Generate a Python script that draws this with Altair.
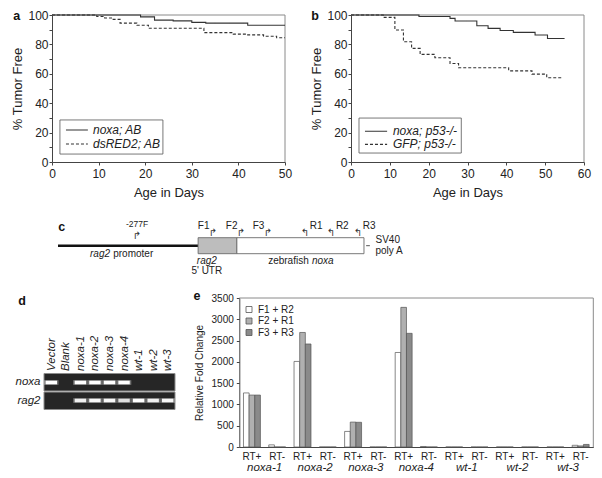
import altair as alt
import pandas as pd

# ---------------- data ----------------
# panel a : % tumor free vs age (step curves)
a_series = ["noxa; AB", "dsRED2; AB"]
a_noxa_days = [0, 19, 22, 26, 30, 33, 42, 50]
a_noxa_pct = [100, 98.7, 96.5, 96, 95, 94.5, 93, 93]
a_ds_days = [0, 9.6, 11.3, 13.0, 14.6, 18.2, 20.7, 32.6, 38.9, 41.8, 45.4, 48.2, 50]
a_ds_pct = [100, 99, 98, 97, 94.5, 93, 91, 88, 87, 86.5, 85.5, 84.5, 84.5]

# panel b
b_series = ["noxa; p53-/-", "GFP; p53-/-"]
b_noxa_days = [0, 17.5, 25.5, 26.8, 32.4, 35.3, 38.4, 41.8, 47.4, 50.6, 55]
b_noxa_pct = [100, 99, 97.7, 95.9, 92.7, 90.9, 89.5, 88.2, 86.4, 84, 84]
b_gfp_days = [0, 8.3, 11.3, 13.5, 15.6, 17.8, 21.6, 25.5, 27.7, 40.6, 46.6, 50.4, 54.3]
b_gfp_pct = [100, 98.4, 89.8, 81.8, 77.3, 73.2, 70.9, 67, 64.1, 62, 59.8, 57.3, 57.3]

# panel c : construct (arbitrary construct units 0..1000)
part_names = ["rag2 promoter", "rag2 5' UTR", "zebrafish noxa", "SV40 poly A"]
part_start = [0, 452, 577, 994]
part_end = [452, 577, 987, 1006]
primer_names = ["-277F", "F1", "F2", "F3", "R1", "R2", "R3"]
primer_pos = [255, 500, 590, 677, 797, 881, 968]
primer_dir = ["F", "F", "F", "F", "R", "R", "R"]

# panel d : RT-PCR gel
lanes = ["Vector", "Blank", "noxa-1", "noxa-2", "noxa-3", "noxa-4", "wt-1", "wt-2", "wt-3"]
gel_rows = ["noxa", "rag2"]
noxa_band = [1, 0, 1, 1, 1, 1, 0, 0, 0]
rag2_band = [0, 0, 0.9, 0.95, 0.95, 0.8, 1, 0.9, 0.95]

# panel e : qPCR relative fold change
samples = ["noxa-1", "noxa-2", "noxa-3", "noxa-4", "wt-1", "wt-2", "wt-3"]
rt_labels = ["RT+", "RT-"]
primers = ["F1 + R2", "F2 + R1", "F3 + R3"]
f1r2_rtp = [1270, 2010, 366, 2220, 0, 0, 0]
f2r1_rtp = [1220, 2690, 585, 3280, 0, 0, 0]
f3r3_rtp = [1220, 2420, 580, 2670, 0, 0, 0]
f1r2_rtm = [50, 0, 0, 12, 0, 0, 40]
f2r1_rtm = [0, 0, 0, 0, 0, 0, 25]
f3r3_rtm = [0, 0, 0, 0, 0, 0, 60]

# ---------------- layout / style ----------------
W, H = 586, 470
FONT = "Liberation Sans"
TXT = "#222"
AX_A = [44, 277]
AX_B = [343, 576]
AY = [154, 7]


def lin(domain, rng):
    return alt.Scale(domain=domain, range=rng, nice=False, zero=False)


layers = []


def survival_panel(series, d1, p1, d2, p2, xdom, xr, xvals, legbox, legline, legtx, legys):
    df = pd.DataFrame(
        [{"series": series[0], "day": d, "pct": p} for d, p in zip(d1, p1)]
        + [{"series": series[1], "day": d, "pct": p} for d, p in zip(d2, p2)]
    )
    xs = lin(xdom, xr)
    ys = lin([0, 100], AY)
    dash = alt.Scale(domain=series, range=[[1, 0], [3, 2]])
    frame_df = pd.DataFrame({"x": [xdom[0], xdom[1]], "x2": [xdom[1], xdom[1]],
                             "y": [100, 0], "y2": [100, 100]})
    frame = alt.Chart(frame_df).mark_rule(color="#8a8a8a", strokeWidth=1).encode(
        x=alt.X("x:Q", scale=xs, axis=None), x2="x2:Q",
        y=alt.Y("y:Q", scale=ys, axis=None), y2="y2:Q")
    lines = alt.Chart(df).mark_line(interpolate="step-after", color="#333", strokeWidth=1.1).encode(
        x=alt.X("day:Q", scale=xs, axis=alt.Axis(
            orient="bottom", offset=AY[0] - H, values=xvals, title="Age in Days",
            labelFontSize=12, titleFontSize=13, tickSize=3, labelPadding=3,
            titlePadding=7, labelFlush=False)),
        y=alt.Y("pct:Q", scale=ys, axis=alt.Axis(
            orient="left", offset=-xr[0], values=list(range(0, 101, 10)),
            labelExpr="datum.value % 20 == 0 ? datum.label : ''",
            title="% Tumor Free", labelFontSize=12, titleFontSize=13,
            tickSize=3, labelPadding=1, titlePadding=3)),
        strokeDash=alt.StrokeDash("series:N", scale=dash, legend=None),
    )
    box = alt.Chart(pd.DataFrame({"x": [legbox[0]], "x2": [legbox[1]],
                                  "y": [legbox[2]], "y2": [legbox[3]]})).mark_rect(
        fill="white", stroke="#555", strokeWidth=0.8).encode(
        x=alt.X("x:Q", scale=xs, axis=None), x2="x2:Q",
        y=alt.Y("y:Q", scale=ys, axis=None), y2="y2:Q")
    leg_df = pd.DataFrame({"series": series, "y": legys,
                           "x": [legline[0]] * 2, "x2": [legline[1]] * 2, "tx": [legtx] * 2})
    leg_lines = alt.Chart(leg_df).mark_rule(color="#333", strokeWidth=1.1).encode(
        x=alt.X("x:Q", scale=xs, axis=None), x2="x2:Q",
        y=alt.Y("y:Q", scale=ys, axis=None),
        strokeDash=alt.StrokeDash("series:N", scale=dash, legend=None))
    leg_text = alt.Chart(leg_df).mark_text(align="left", baseline="middle", fontSize=12,
                                           fontStyle="italic", color=TXT).encode(
        x=alt.X("tx:Q", scale=xs, axis=None),
        y=alt.Y("y:Q", scale=ys, axis=None), text="series:N")
    return [frame, lines, box, leg_lines, leg_text]


layers += survival_panel(a_series, a_noxa_days, a_noxa_pct, a_ds_days, a_ds_pct,
                         [0, 50], AX_A, [0, 10, 20, 30, 40, 50],
                         [1.7, 23.8, 5.4, 28.6], [3.0, 7.7], 8.8, [21.8, 12.2])
layers += survival_panel(b_series, b_noxa_days, b_noxa_pct, b_gfp_days, b_gfp_pct,
                         [0, 60], AX_B, [0, 10, 20, 30, 40, 50, 60],
                         [2.06, 28.4, 6.1, 29.9], [3.6, 9.3], 10.8, [20.9, 12.0])

# ---------------- panel c ----------------
CX = lin([0, 1000], [50, 360])
CY = lin([-1, 1], [245.7, 229.7])
parts = pd.DataFrame({"name": part_names, "x": part_start, "x2": part_end,
                      "y": [0, -1, -1, 0], "y2": [0, 1, 1, 0]})
prom = alt.Chart(parts.iloc[[0]]).mark_rule(color="#111", strokeWidth=2.6).encode(
    x=alt.X("x:Q", scale=CX, axis=None), x2="x2:Q", y=alt.Y("y:Q", scale=CY, axis=None))
sv = alt.Chart(parts.iloc[[3]]).mark_rule(color="#555", strokeWidth=1).encode(
    x=alt.X("x:Q", scale=CX, axis=None), x2="x2:Q", y=alt.Y("y:Q", scale=CY, axis=None))
boxes = alt.Chart(parts.iloc[[1, 2]]).mark_rect(stroke="#6a6a6a", strokeWidth=0.9).encode(
    x=alt.X("x:Q", scale=CX, axis=None), x2="x2:Q",
    y=alt.Y("y:Q", scale=CY, axis=None), y2="y2:Q",
    fill=alt.Fill("name:N", scale=alt.Scale(domain=part_names[1:3], range=["#bdbdbd", "#ffffff"]),
                  legend=None))
layers += [prom, sv, boxes]

normal_txt = pd.DataFrame({
    "t": ["promoter", "5' UTR", "zebrafish", "SV40", "poly A"],
    "x": [173, 480, 814, 1019, 1019],
    "y": [-1.05, -3.2, -1.95, 0.68, -0.72],
    "al": ["left", "center", "right", "left", "left"],
})
italic_txt = pd.DataFrame({
    "t": ["rag2", "rag2", "noxa"],
    "x": [173, 480, 814],
    "y": [-1.05, -1.95, -1.95],
    "al": ["right", "center", "left"],
})
for df_, style in ((normal_txt, "normal"), (italic_txt, "italic")):
    for al in ("left", "center", "right"):
        sub = df_[df_.al == al]
        if len(sub) == 0:
            continue
        dx = {"left": 1.6, "center": 0, "right": -1.6}[al]
        layers.append(alt.Chart(sub).mark_text(align=al, baseline="middle", fontSize=10,
                                               fontStyle=style, color=TXT, dx=dx).encode(
            x=alt.X("x:Q", scale=CX, axis=None), y=alt.Y("y:Q", scale=CY, axis=None), text="t:N"))

prim = pd.DataFrame({"name": primer_names, "pos": primer_pos, "dir": primer_dir})
prim["glyph"] = ["\u21b1" if d == "F" else "\u21b0" for d in primer_dir]
prim["lx"] = [p if n == "-277F" else (p - 30 if d == "F" else p + 36)
              for n, p, d in zip(primer_names, primer_pos, primer_dir)]
prim["ly"] = [2.75 if n == "-277F" else 2.45 for n in primer_names]
prim["gy"] = [1.25 if n == "-277F" else 1.55 for n in primer_names]
prim["fs"] = [8.5 if n == "-277F" else 10 for n in primer_names]
for fs in (8.5, 10):
    layers.append(alt.Chart(prim[prim.fs == fs]).mark_text(align="center", baseline="middle",
                                                           fontSize=fs, color=TXT).encode(
        x=alt.X("lx:Q", scale=CX, axis=None), y=alt.Y("ly:Q", scale=CY, axis=None), text="name:N"))
layers.append(alt.Chart(prim).mark_text(align="center", baseline="middle", fontSize=10,
                                        font="DejaVu Sans", color="#333").encode(
    x=alt.X("pos:Q", scale=CX, axis=None), y=alt.Y("gy:Q", scale=CY, axis=None), text="glyph:N"))

# ---------------- panel d ----------------
gel = pd.DataFrame([{"lane": l, "row": r, "i": v}
                    for r, vals in zip(gel_rows, [noxa_band, rag2_band])
                    for l, v in zip(lanes, vals)])
gel["glow"] = gel["i"] * 0.35
GX = alt.Scale(domain=lanes, range=[36, 167], paddingInner=0, paddingOuter=0)
GY = alt.Scale(domain=gel_rows, range=[365.5, 401.5], paddingInner=0.06, paddingOuter=0)
gel_strip = pd.DataFrame({"row": gel_rows, "x": [0, 0], "x2": [len(lanes), len(lanes)]})
gel_bg = alt.Chart(gel_strip).mark_rect(color="#262626", stroke="#8c8c8c", strokeWidth=1).encode(
    x=alt.X("x:Q", scale=lin([0, len(lanes)], [36, 167]), axis=None), x2="x2:Q",
    y=alt.Y("row:N", scale=GY, axis=alt.Axis(
        orient="left", offset=-36, title=None, labelFontSize=11.5, labelFontStyle="italic",
        domain=False, ticks=False, labelPadding=4)),
)
BAND = "M-1,-0.32L1,-0.32L1,0.32L-1,0.32Z"
gel_glow = alt.Chart(gel).mark_point(shape=BAND, filled=True, color="white", size=210,
                                     strokeWidth=0).encode(
    x=alt.X("lane:N", scale=GX, axis=None), y=alt.Y("row:N", scale=GY, axis=None),
    opacity=alt.Opacity("glow:Q", scale=None, legend=None))
gel_core = alt.Chart(gel).mark_point(shape=BAND, filled=True, color="white", size=130,
                                     strokeWidth=0).encode(
    x=alt.X("lane:N", scale=GX, axis=alt.Axis(
        orient="top", offset=-365.5, title=None, labelAngle=-90, labelAlign="left",
        labelBaseline="middle", labelPadding=3, labelFontSize=11.5, labelFontStyle="italic",
        domain=False, ticks=False)),
    y=alt.Y("row:N", scale=GY, axis=None),
    opacity=alt.Opacity("i:Q", scale=None, legend=None))
layers += [gel_bg, gel_glow, gel_core]

# ---------------- panel e ----------------
rows = []
for si, s in enumerate(samples):
    for r, arrs in (("RT+", [f1r2_rtp, f2r1_rtp, f3r3_rtp]), ("RT-", [f1r2_rtm, f2r1_rtm, f3r3_rtm])):
        for p, arr in zip(primers, arrs):
            rows.append({"group": f"{s}|{r}", "sample": s, "primer": p, "value": arr[si]})
edf = pd.DataFrame(rows)
groups = [f"{s}|{r}" for s in samples for r in rt_labels]
E_XR = [231.3, 585.3]
EY = lin([0, 3500], [439, 290])
EX = alt.Scale(domain=groups, range=E_XR, paddingInner=0.33, paddingOuter=0.165)
bw = (E_XR[1] - E_XR[0]) / len(groups) * 0.67

eframe = alt.Chart(pd.DataFrame({"x": [0, 1], "x2": [1, 1], "y": [3500, 0], "y2": [3500, 3500]})
                   ).mark_rule(color="#8a8a8a", strokeWidth=1).encode(
    x=alt.X("x:Q", scale=lin([0, 1], E_XR), axis=None), x2="x2:Q",
    y=alt.Y("y:Q", scale=EY, axis=None), y2="y2:Q")
bars = alt.Chart(edf).mark_bar(stroke="#555", strokeWidth=0.7).encode(
    x=alt.X("group:N", scale=EX, sort=groups, axis=alt.Axis(
        orient="bottom", offset=439 - H, title=None, labelAngle=0,
        labelExpr="split(datum.value, '|')[1]", labelFontSize=10, tickSize=0,
        labelPadding=4, labelOverlap=False)),
    xOffset=alt.XOffset("primer:N", scale=alt.Scale(domain=primers, range=[0, bw],
                                                    paddingInner=0, paddingOuter=0)),
    y=alt.Y("value:Q", scale=EY, axis=alt.Axis(
        orient="left", offset=-E_XR[0], values=list(range(0, 3501, 500)), format="d",
        title="Relative Fold Change", labelFontSize=10, titleFontSize=10,
        tickSize=3, labelPadding=3, titlePadding=7)),
    fill=alt.Fill("primer:N", scale=alt.Scale(domain=primers, range=["#ffffff", "#b0b0b0", "#8a8a8a"]),
                  legend=alt.Legend(orient="none", legendX=236, legendY=296.5, title=None,
                                    symbolType="square", symbolSize=36, symbolStrokeColor="#555",
                                    symbolStrokeWidth=0.8, labelFontSize=10, labelColor=TXT,
                                    rowPadding=1.5, labelOffset=4, padding=0)),
)
samp_axis = alt.Chart(pd.DataFrame({"sample": samples})).mark_tick(opacity=0).encode(
    x=alt.X("sample:N", scale=alt.Scale(domain=samples, range=E_XR, paddingInner=0, paddingOuter=0),
            sort=samples,
            axis=alt.Axis(orient="bottom", offset=439 - H, title=None, labelAngle=0,
                          labelFontSize=11.5, labelFontStyle="italic", domain=False, ticks=False,
                          labelPadding=14)))
layers += [eframe, bars, samp_axis]

# ---------------- panel letters ----------------
for ch, x, y in (("a", 8.7, 11.8), ("b", 307, 11.8), ("c", 53.7, 223.3), ("d", 14, 297), ("e", 189, 292)):
    layers.append(alt.Chart(pd.DataFrame({"t": [ch]})).mark_text(
        fontSize=12.5, fontWeight="bold", align="center", baseline="alphabetic", color="#111").encode(
        x=alt.value(x), y=alt.value(y), text="t:N"))

chart = (
    alt.layer(*layers)
    .properties(width=W, height=H, padding=0, autosize=alt.AutoSizeParams(type="none"))
    .resolve_scale(x="independent", y="independent", strokeDash="independent",
                   fill="independent", opacity="independent")
    .resolve_axis(x="independent", y="independent")
    .resolve_legend(strokeDash="independent", fill="independent")
    .configure(font=FONT)
    .configure_view(stroke="transparent")
    .configure_axis(grid=False, labelColor=TXT, titleColor=TXT, domainColor="#444",
                    tickColor="#444", titleFontWeight="normal", labelFont=FONT, titleFont=FONT)
)
chart.save("out.html", embed_options={"renderer": "svg", "actions": False})
